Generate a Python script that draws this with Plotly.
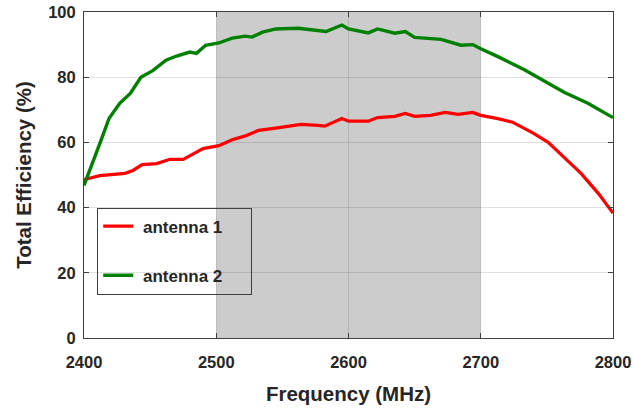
import plotly.graph_objects as go

freq1 = [2400, 2412, 2431, 2437, 2444, 2455, 2465, 2475, 2482, 2490, 2502, 2512, 2522, 2532, 2545, 2557, 2564, 2577,
         2582, 2595, 2600, 2615, 2622, 2635, 2643, 2650, 2662, 2673, 2683, 2694, 2700, 2713, 2724, 2739, 2751, 2763,
         2776, 2789, 2800]
ant1 = [48.6, 49.8, 50.5, 51.4, 53.2, 53.5, 54.8, 54.8, 56.3, 58.1, 59.0, 60.8, 62.0, 63.7, 64.4, 65.0, 65.5, 65.2,
        65.0, 67.3, 66.5, 66.5, 67.6, 68.0, 68.9, 68.0, 68.3, 69.2, 68.6, 69.2, 68.3, 67.3, 66.2, 63.0, 60.0, 55.4,
        50.4, 44.3, 38.3]

freq2 = [2400, 2406, 2412, 2419, 2427, 2435, 2443, 2452, 2462, 2470, 2480, 2485, 2492, 2502, 2512, 2522, 2527, 2535,
         2545, 2562, 2577, 2583, 2595, 2600, 2615, 2622, 2635, 2643, 2650, 2670, 2685, 2694, 2700, 2713, 2733, 2751,
         2763, 2781, 2800]
ant2 = [46.8, 53.0, 59.7, 67.4, 72.0, 75.0, 80.0, 82.0, 85.2, 86.5, 87.7, 87.3, 89.8, 90.5, 92.0, 92.6, 92.3, 93.8,
        94.8, 95.0, 94.2, 94.0, 96.0, 94.8, 93.6, 94.8, 93.5, 94.0, 92.2, 91.6, 89.8, 90.0, 88.7, 86.3, 82.3, 78.0,
        75.4, 72.0, 67.6]

band = [2500, 2700]
xticks = [2400, 2500, 2600, 2700, 2800]
yticks = [0, 20, 40, 60, 80, 100]

FONT = "Liberation Sans, Arial"
font_col = "#262626"
fig = go.Figure()
fig.add_trace(go.Scatter(x=freq1, y=ant1, mode="lines", name="\u00a0antenna 1\u00a0\u00a0\u00a0\u00a0\u00a0",
                         legendgroup="a", line=dict(color="#ff0000", width=3.2)))
fig.add_trace(go.Scatter(x=freq2, y=ant2, mode="lines", name="\u00a0antenna 2\u00a0\u00a0\u00a0\u00a0\u00a0",
                         legendgroup="b", line=dict(color="#008000", width=3.4)))

fig.add_shape(type="rect", xref="x", yref="y", x0=band[0], x1=band[1], y0=0, y1=100,
              fillcolor="#cccccc", line=dict(width=0), layer="below")

axis_common = dict(showline=True, linecolor="#404040", linewidth=1, mirror="ticks", ticks="inside",
                   ticklen=5, tickcolor="#404040", showgrid=True, gridcolor="rgba(0,0,0,0.12)",
                   gridwidth=1, zeroline=False, automargin=False,
                   tickfont=dict(family=FONT, size=16.5, color=font_col, weight="bold"))

fig.update_xaxes(range=[2400, 2800], tickvals=xticks, ticktext=[str(v) for v in xticks],
                 ticklabelstandoff=9,
                 title=dict(text="Frequency (MHz)", font=dict(family=FONT, size=20.5, color=font_col, weight="bold"), standoff=16),
                 **axis_common)
fig.update_yaxes(range=[0, 100], tickvals=yticks, ticktext=[str(v) for v in yticks],
                 ticklabelstandoff=4,
                 title=dict(text="Total Efficiency (%)", font=dict(family=FONT, size=20.5, color=font_col, weight="bold"), standoff=10),
                 **axis_common)

fig.update_layout(
    width=633, height=414,
    margin=dict(l=84, r=20, t=12, b=76),
    plot_bgcolor="white", paper_bgcolor="white",
    showlegend=True,
    legend=dict(x=0.025, y=0.40, xanchor="left", yanchor="top",
                bgcolor="rgba(0,0,0,0)", bordercolor="#404040", borderwidth=1,
                font=dict(family=FONT, size=17, color=font_col, weight="bold"),
                tracegroupgap=24, traceorder="grouped", itemwidth=30),
)
fig.write_html("out.html")
